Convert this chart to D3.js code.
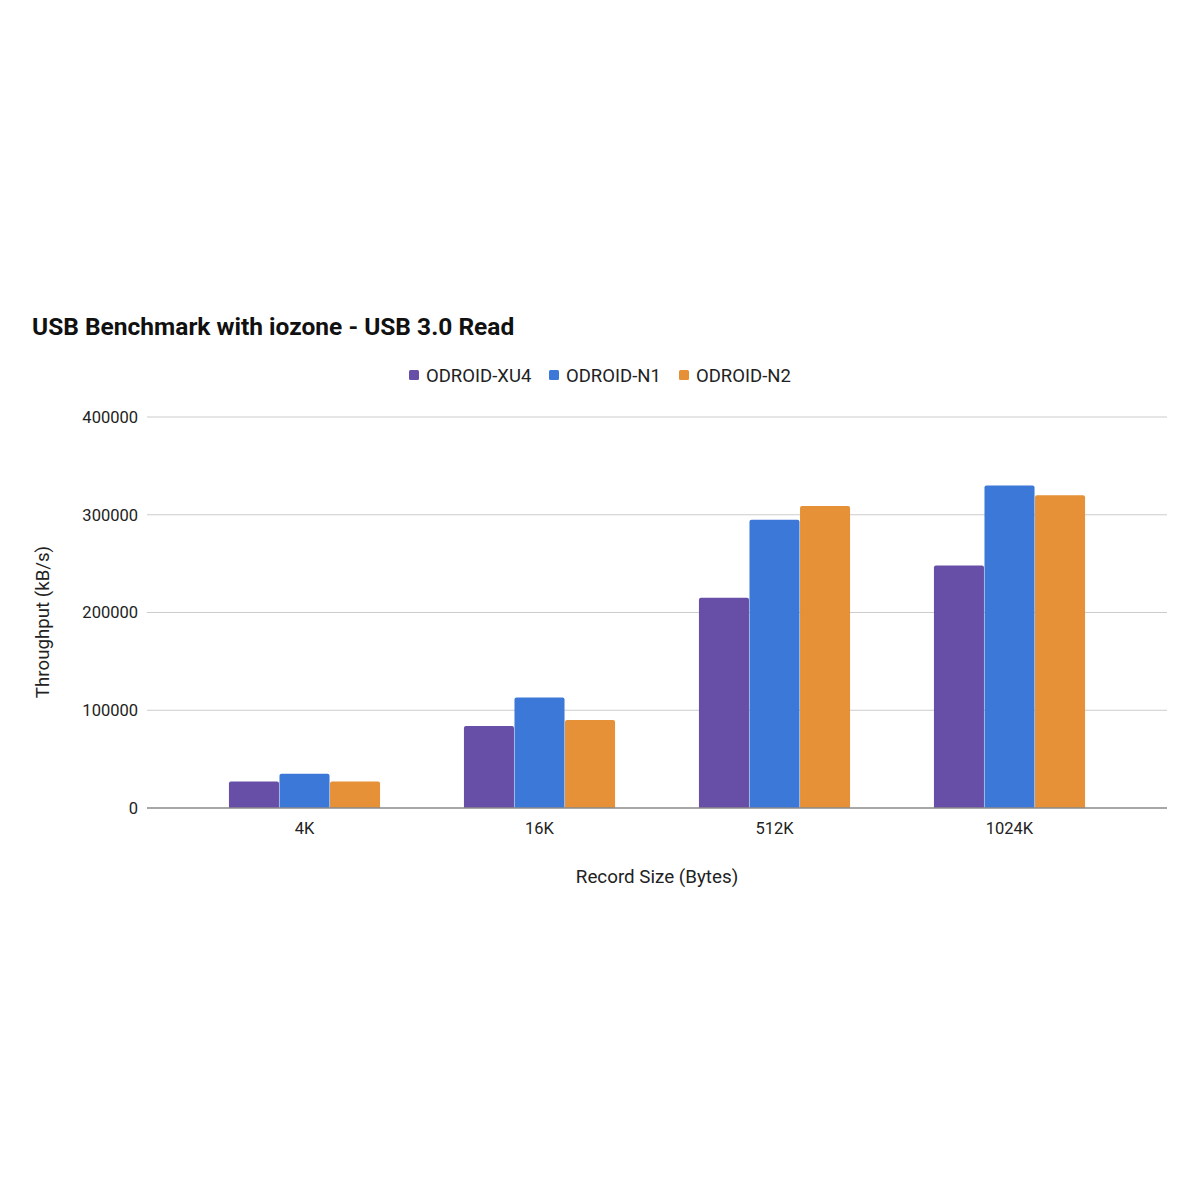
<!DOCTYPE html>
<html>
<head>
<meta charset="utf-8">
<script src="https://cdn.jsdelivr.net/npm/d3@7"></script>
<style>
  body { margin: 0; background: #fff; }
  text { font-family: Roboto, "Noto Sans", sans-serif; }
</style>
</head>
<body>
<div id="container"></div>
<script>
/* DATA */
const categories = ["4K", "16K", "512K", "1024K"]
const seriesNames = ["ODROID-XU4", "ODROID-N1", "ODROID-N2"]
const xu4 = [27000, 84000, 215000, 248000]
const n1 = [35000, 113000, 295000, 330000]
const n2 = [27000, 90000, 309000, 320000]
const yTicks = [0, 100000, 200000, 300000, 400000]

const colors = ["#674ea7", "#3c78d8", "#e69138"]
const seriesValues = [xu4, n1, n2]

/* CONSTANTS */
const width = 1200, height = 1200
const plot = { left: 147, right: 1167, top: 417, bottom: 808 }

const svg = d3.select("#container")
  .append("svg")
  .attr("width", width)
  .attr("height", height)

// SCALES
const yScale = d3.scaleLinear()
  .domain([0, 400000])
  .range([plot.bottom, plot.top])

const x0 = d3.scaleBand()
  .domain(categories)
  .range([plot.left + 40, plot.right - 40])
  .paddingInner(0.357)
  .paddingOuter(0.1785)

const x1 = d3.scaleBand()
  .domain(seriesNames)
  .range([0, x0.bandwidth()])
  .paddingInner(0.01)

// GRIDLINES
svg.append("g")
  .selectAll("line")
  .data(yTicks.filter(d => d > 0))
  .join("line")
  .attr("x1", plot.left)
  .attr("x2", plot.right)
  .attr("y1", d => yScale(d))
  .attr("y2", d => yScale(d))
  .attr("stroke", "#cccccc")
  .attr("stroke-width", 1)

// Y AXIS labels
const yAxis = d3.axisLeft(yScale)
  .tickValues(yTicks)
  .tickFormat(d3.format("d"))
  .tickSize(0)
  .tickPadding(9)
const yg = svg.append("g")
  .attr("transform", `translate(${plot.left}, 0)`)
  .call(yAxis)
yg.select(".domain").remove()
yg.selectAll("text")
  .attr("font-size", 16.5)
  .attr("fill", "#222")
  .style("font-family", "Roboto, sans-serif")

// BARS
const rows = categories.map((c, i) => ({
  cat: c,
  vals: seriesNames.map((s, j) => ({ series: s, value: seriesValues[j][i], color: colors[j] }))
}))

svg.append("g")
  .selectAll("g")
  .data(rows)
  .join("g")
  .attr("transform", d => `translate(${x0(d.cat)}, 0)`)
  .selectAll("path")
  .data(d => d.vals)
  .join("path")
  .attr("fill", d => d.color)
  .attr("d", d => {
    const x = x1(d.series), w = x1.bandwidth()
    const y = yScale(d.value), b = yScale(0), r = 2
    return `M${x},${b}V${y + r}Q${x},${y} ${x + r},${y}H${x + w - r}Q${x + w},${y} ${x + w},${y + r}V${b}Z`
  })

// BASELINE
svg.append("line")
  .attr("x1", plot.left)
  .attr("x2", plot.right)
  .attr("y1", yScale(0))
  .attr("y2", yScale(0))
  .attr("stroke", "#8a8a8a")
  .attr("stroke-width", 1.5)

// X AXIS
const xAxis = d3.axisBottom(x0).tickSize(0).tickPadding(14)
const xg = svg.append("g")
  .attr("transform", `translate(0, ${plot.bottom})`)
  .call(xAxis)
xg.select(".domain").remove()
xg.selectAll("text")
  .attr("font-size", 16.5)
  .attr("fill", "#222")
  .style("font-family", "Roboto, sans-serif")

// TITLE
svg.append("text")
  .attr("x", 32)
  .attr("y", 335)
  .attr("font-size", 24.5)
  .attr("font-weight", "bold")
  .attr("fill", "#111")
  .text("USB Benchmark with iozone - USB 3.0 Read")

// LEGEND
const legendX = [409, 549, 679]
const legend = svg.append("g")
  .selectAll("g")
  .data(seriesNames)
  .join("g")
  .attr("transform", (d, i) => `translate(${legendX[i]}, 375)`)
legend.append("rect")
  .attr("x", 0)
  .attr("y", -5)
  .attr("width", 10)
  .attr("height", 10)
  .attr("rx", 1.5)
  .attr("fill", (d, i) => colors[i])
legend.append("text")
  .attr("x", 17)
  .attr("y", 6.5)
  .attr("font-size", 18.5)
  .attr("fill", "#222")
  .text(d => d)

// AXIS TITLES
svg.append("text")
  .attr("text-anchor", "middle")
  .attr("x", 657)
  .attr("y", 883)
  .attr("font-size", 18.8)
  .attr("fill", "#222")
  .text("Record Size (Bytes)")

svg.append("text")
  .attr("text-anchor", "middle")
  .attr("transform", "rotate(-90)")
  .attr("x", -622)
  .attr("y", 49)
  .attr("font-size", 18.7)
  .attr("fill", "#222")
  .text("Throughput (kB/s)")
</script>
</body>
</html>
